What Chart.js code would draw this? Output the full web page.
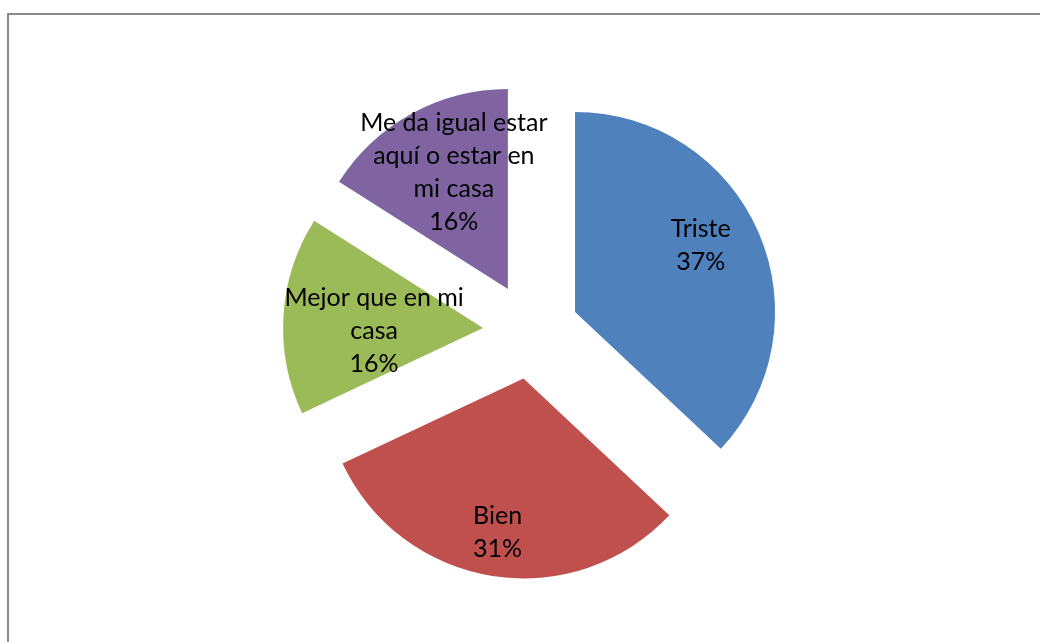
<!DOCTYPE html>
<html>
<head>
<meta charset="utf-8">
<script src="https://cdn.jsdelivr.net/npm/chart.js@4"></script>
<style>
  html, body { margin: 0; padding: 0; background: #fff; }
  #wrap { position: relative; width: 1040px; height: 642px; overflow: hidden; }
  #frame { position: absolute; left: 7px; top: 13px; width: 1100px; height: 700px;
           border-top: 2px solid #8a8a8a; border-left: 2px solid #8a8a8a; }
  canvas { position: absolute; left: 0; top: 0; }
</style>
</head>
<body>
<div id="wrap">
  <div id="frame"></div>
  <canvas id="myChart" width="1040" height="642"></canvas>
</div>
<script>
// slices, clockwise from 12 o'clock
const categories = [
    ['Triste'],
    ['Bien'],
    ['Mejor que en mi', 'casa'],
    ['Me da igual estar', 'aquí o estar en', 'mi casa']
]
const values = [37, 31, 16, 16]
const percentLabels = ['37%', '31%', '16%', '16%']
const colors = ['#4F81BD', '#C0504D', '#9BBB59', '#8064A2']

const pieRadius = 200
const explode = 48 // px each slice is pulled out
// where the label sits: share of the slice angle, share of the radius
const labelAngle = [0.467, 0.505, 0.41, 0.568]
const labelDist = [0.71, 0.78, 0.545, 0.642]

// pull every slice out along its bisector by the same distance
const explodeSlices = {
    id: 'explodeSlices',
    afterDatasetUpdate(chart, args) {
        args.meta.data.forEach(arc => {
            const mid = (arc.startAngle + arc.endAngle) / 2
            arc.x += Math.cos(mid) * explode
            arc.y += Math.sin(mid) * explode
        })
    }
}

const sliceLabels = {
    id: 'sliceLabels',
    afterDatasetsDraw(chart) {
        const ctx = chart.ctx
        const arcs = chart.getDatasetMeta(0).data
        ctx.save()
        ctx.font = '25px Lato, "Open Sans", sans-serif'
        ctx.fillStyle = '#000'
        ctx.textAlign = 'center'
        ctx.textBaseline = 'middle'
        arcs.forEach((arc, i) => {
            const p = arc.getProps(['x', 'y', 'startAngle', 'endAngle', 'outerRadius'], true)
            const a = p.startAngle + labelAngle[i] * (p.endAngle - p.startAngle)
            const d = labelDist[i] * p.outerRadius
            const cx = p.x + Math.cos(a) * d
            const cy = p.y + Math.sin(a) * d
            const lines = categories[i].concat([percentLabels[i]])
            const lh = 33
            const top = cy - (lines.length - 1) * lh / 2
            lines.forEach((t, j) => ctx.fillText(t, cx, top + j * lh))
        })
        ctx.restore()
    }
}

new Chart(document.getElementById('myChart'), {
    type: 'pie',
    data: {
        labels: categories,
        datasets: [{
            data: values,
            backgroundColor: colors,
            borderWidth: 0,
            hoverOffset: 0,
            radius: pieRadius
        }]
    },
    options: {
        responsive: false,
        animation: false,
        layout: { padding: { left: 22, right: 0, top: 20, bottom: 0 } },
        plugins: {
            legend: { display: false },
            tooltip: { enabled: false }
        }
    },
    plugins: [explodeSlices, sliceLabels]
});
</script>
</body>
</html>
